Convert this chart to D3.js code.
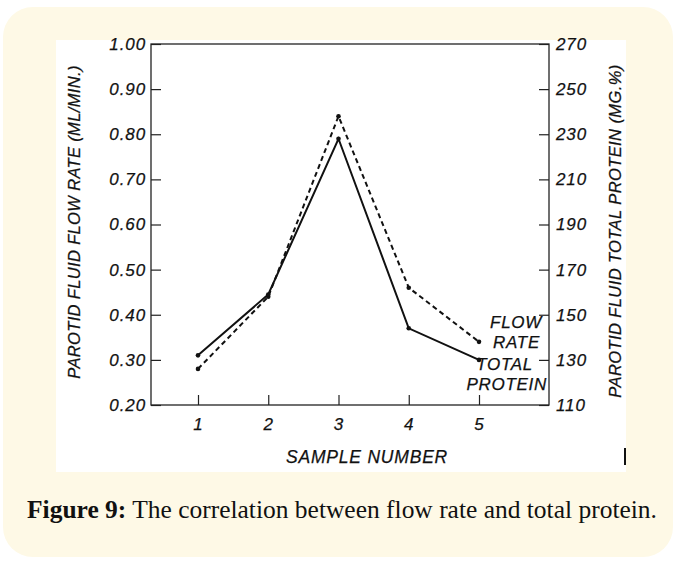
<!DOCTYPE html>
<html>
<head>
<meta charset="utf-8">
<script src="https://cdn.jsdelivr.net/npm/d3@7"></script>
<style>
  body { margin: 0; background: #ffffff; }
  svg text { fill: #111; }
  .tick text { font-family: "Liberation Sans", Arial, sans-serif; font-style: italic; font-size: 17px; letter-spacing: 0.9px; stroke: #111; stroke-width: 0.25; }
  .tick line { stroke: #222; stroke-width: 1.2; }
</style>
</head>
<body>
<svg id="chart" width="677" height="571"></svg>
<script>

const samples = [1, 2, 3, 4, 5]

// dashed line, left axis (ml/min)
const flowRate = [0.28, 0.44, 0.84, 0.46, 0.34]

// solid line, right axis (mg %)
const totalProtein = [132, 159, 228, 144, 130]

const leftTicks = [0.2, 0.3, 0.4, 0.5, 0.6, 0.7, 0.8, 0.9, 1.0]
const rightTicks = [110, 130, 150, 170, 190, 210, 230, 250, 270]

const caption = "The correlation between flow rate and total protein."

let svg = d3.select('#chart')

// page frame
svg.append('rect')
.attr('x', 3).attr('y', 7)
.attr('width', 670).attr('height', 550)
.attr('rx', 30)
.attr('fill', '#fef9e6')

svg.append('rect')
.attr('x', 56).attr('y', 40)
.attr('width', 570).attr('height', 432)
.attr('fill', '#ffffff')

svg.append('line')
.attr('x1', 625).attr('x2', 625)
.attr('y1', 448).attr('y2', 465)
.attr('stroke', '#111')
.attr('stroke-width', 2)

let plotLeft = 151, plotRight = 549, plotTop = 44, plotBottom = 405

let xScale = d3.scaleLinear()
.domain([1, 5])
.range([198, 479])

let yLeft = d3.scaleLinear()
.domain([0.2, 1.0])
.range([plotBottom, plotTop])

let yRight = d3.scaleLinear()
.domain([110, 270])
.range([plotBottom, plotTop])

// axes, ticks point inward
svg.append('g')
.attr('transform', 'translate(' + plotLeft + ',0)')
.call(
  d3.axisLeft(yLeft)
  .tickValues(leftTicks)
  .tickFormat(d3.format('.2f'))
  .tickSizeInner(-10)
  .tickSizeOuter(0)
  .tickPadding(5)
)
.call(g => g.select('.domain').remove())

svg.append('g')
.attr('transform', 'translate(' + plotRight + ',0)')
.call(
  d3.axisRight(yRight)
  .tickValues(rightTicks)
  .tickSizeInner(-10)
  .tickSizeOuter(0)
  .tickPadding(7)
)
.call(g => g.select('.domain').remove())

svg.append('g')
.attr('transform', 'translate(0,' + plotBottom + ')')
.call(
  d3.axisBottom(xScale)
  .tickValues(samples)
  .tickFormat(d3.format('d'))
  .tickSizeInner(-10)
  .tickSizeOuter(0)
  .tickPadding(13)
)
.call(g => g.select('.domain').remove())

svg.append('rect')
.attr('x', plotLeft).attr('y', plotTop)
.attr('width', plotRight - plotLeft).attr('height', plotBottom - plotTop)
.attr('fill', 'none')
.attr('stroke', '#222')
.attr('stroke-width', 1.3)

// series
let flowLine = d3.line()
.x((d, i) => xScale(samples[i]))
.y(d => yLeft(d))

let proteinLine = d3.line()
.x((d, i) => xScale(samples[i]))
.y(d => yRight(d))

svg.append('path')
.datum(flowRate)
.attr('d', flowLine)
.attr('fill', 'none')
.attr('stroke', '#111')
.attr('stroke-width', 2)
.attr('stroke-dasharray', '5,3.5')

svg.append('path')
.datum(totalProtein)
.attr('d', proteinLine)
.attr('fill', 'none')
.attr('stroke', '#111')
.attr('stroke-width', 2)

svg.selectAll('.flow-dot')
.data(flowRate)
.join('circle')
.attr('class', 'flow-dot')
.attr('cx', (d, i) => xScale(samples[i]))
.attr('cy', d => yLeft(d))
.attr('r', 2.3)
.attr('fill', '#111')

svg.selectAll('.protein-dot')
.data(totalProtein)
.join('circle')
.attr('class', 'protein-dot')
.attr('cx', (d, i) => xScale(samples[i]))
.attr('cy', d => yRight(d))
.attr('r', 2.3)
.attr('fill', '#111')

// shared sans style, slightly thickened like the scan
let sans = (s, size, spacing) => s
.attr('font-family', '"Liberation Sans", Arial, sans-serif')
.attr('font-style', 'italic')
.attr('font-size', size)
.attr('letter-spacing', spacing)
.attr('stroke', '#111')
.attr('stroke-width', 0.25)

// labels next to line ends
let label = (txt, x, y) => svg.append('text')
.text(txt)
.attr('x', x).attr('y', y)
.attr('text-anchor', 'end')
.call(sans, 17, 0.7)

label('FLOW', 542, 328)
label('RATE', 540, 348)
label('TOTAL', 533, 370)
label('PROTEIN', 547, 390)

// axis titles
svg.append('text')
.text('PAROTID FLUID FLOW RATE (ML/MIN.)')
.attr('transform', 'translate(80,222) rotate(-90)')
.attr('text-anchor', 'middle')
.call(sans, 16.5, 0.35)

svg.append('text')
.text('PAROTID FLUID TOTAL PROTEIN (MG.%)')
.attr('transform', 'translate(621,231) rotate(-90)')
.attr('text-anchor', 'middle')
.call(sans, 16.5, 0.4)

svg.append('text')
.text('SAMPLE NUMBER')
.attr('x', 367).attr('y', 463)
.attr('text-anchor', 'middle')
.call(sans, 17.5, 0.8)

// caption, fitted to width
let cap = svg.append('text')
.attr('x', 342).attr('y', 518)
.attr('text-anchor', 'middle')
.attr('font-family', '"Liberation Serif", serif')
.attr('font-size', 20)
.attr('fill', '#1a1a1a')

cap.append('tspan').attr('font-weight', 'bold').text('Figure 9:')
cap.append('tspan').text(' ' + caption)

let w = cap.node().getComputedTextLength()
cap.attr('font-size', 20 * 630 / w)

</script>
</body>
</html>
